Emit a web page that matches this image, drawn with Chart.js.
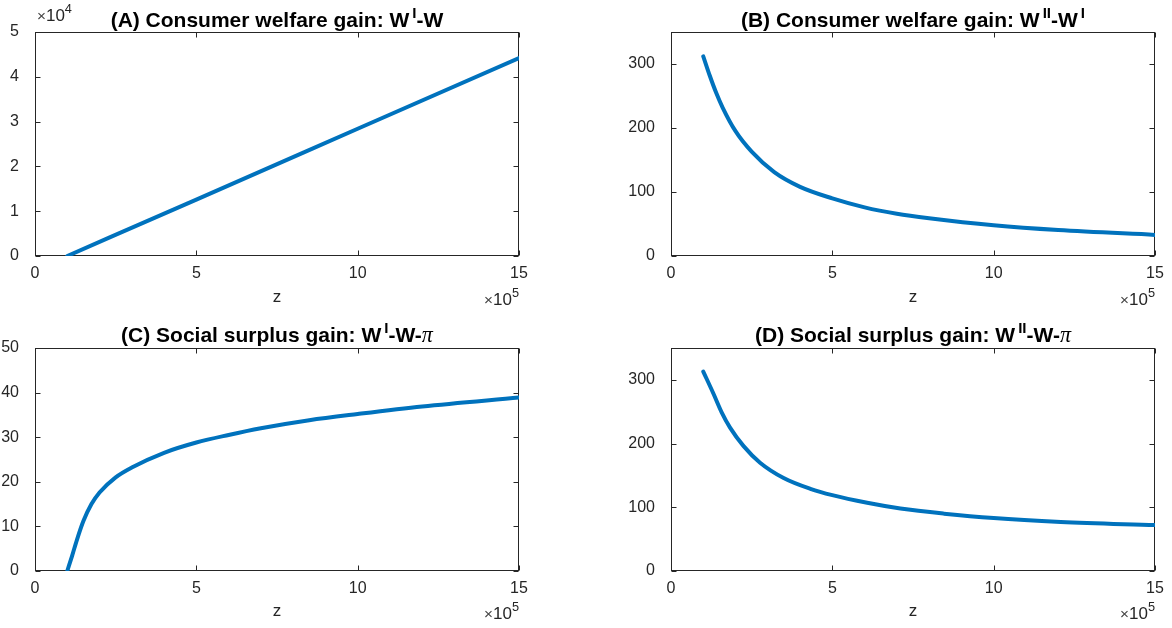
<!DOCTYPE html>
<html><head><meta charset="utf-8">
<script src="https://cdn.jsdelivr.net/npm/chart.js@4"></script>
<style>
html,body{margin:0;padding:0;background:#fff;}
body{width:1172px;height:628px;position:relative;overflow:hidden;font-family:'Liberation Sans',Arial,sans-serif;}
canvas{position:absolute;}
.title{position:absolute;font-weight:bold;font-size:21px;line-height:21px;white-space:nowrap;transform:translateX(-50%);color:#000;}
.title sup{font-size:0.72em;vertical-align:baseline;position:relative;top:-0.6em;margin-left:3px;}
.title .pi{font-family:'Liberation Serif',serif;font-style:italic;font-weight:normal;font-size:1.05em;}
.exp{position:absolute;font-size:17px;line-height:17px;white-space:nowrap;color:#262626;}
.exp sup{font-size:0.75em;vertical-align:baseline;position:relative;top:-0.6em;}
.exp .x{font-size:0.9em;color:#444;}
</style></head>
<body>
<canvas id="cA" width="586" height="316" style="left:0;top:0"></canvas>
<canvas id="cB" width="586" height="316" style="left:586px;top:0"></canvas>
<canvas id="cC" width="586" height="312" style="left:0;top:316px"></canvas>
<canvas id="cD" width="586" height="312" style="left:586px;top:316px"></canvas>

<div class="title" style="left:277px;top:9px">(A) Consumer welfare gain: W<sup>I</sup>-W</div>
<div class="title" style="left:913px;top:9px">(B) Consumer welfare gain: W<sup>II</sup>-W<sup>I</sup></div>
<div class="title" style="left:277px;top:324px">(C) Social surplus gain: W<sup>I</sup>-W-<span class="pi">π</span></div>
<div class="title" style="left:913px;top:324px">(D) Social surplus gain: W<sup>II</sup>-W-<span class="pi">π</span></div>

<div class="exp" style="left:37px;top:7px"><span class="x">×</span>10<sup>4</sup></div>
<div class="exp" style="right:653px;top:291px"><span class="x">×</span>10<sup>5</sup></div>
<div class="exp" style="right:17px;top:291px"><span class="x">×</span>10<sup>5</sup></div>
<div class="exp" style="right:653px;top:605px"><span class="x">×</span>10<sup>5</sup></div>
<div class="exp" style="right:17px;top:605px"><span class="x">×</span>10<sup>5</sup></div>

<script>
// ---- data (z in raw units) ----
const xTicks = [0, 500000, 1000000, 1500000];
const xTickLabels = ['0', '5', '10', '15'];

const zA = [100000, 500000, 1000000, 1500000];
const wA = [0, 12600, 28400, 44200];
const yTicksA = [0, 10000, 20000, 30000, 40000, 50000];
const yTickLabelsA = ['0', '1', '2', '3', '4', '5'];

const zB = [100000, 120000, 140000, 160000, 200000, 250000, 320000, 400000, 500000, 600000, 700000, 800000, 1000000, 1200000, 1500000];
const wB = [312, 282, 255, 232, 195, 163, 131, 108, 90, 76, 66, 59, 48, 40.5, 33];
const yTicksB = [0, 100, 200, 300];
const yTickLabelsB = ['0', '100', '200', '300'];

const zC = [100000, 115000, 130000, 150000, 175000, 200000, 250000, 300000, 400000, 500000, 600000, 700000, 850000, 1000000, 1200000, 1500000];
const wC = [0, 3.4, 7.0, 11.2, 15.0, 17.6, 21.0, 23.2, 26.5, 28.8, 30.5, 32.0, 33.8, 35.2, 36.9, 38.9];
const yTicksC = [0, 10, 20, 30, 40, 50];
const yTickLabelsC = ['0', '10', '20', '30', '40', '50'];

const zD = [100000, 131000, 157000, 183000, 225000, 276000, 349000, 432000, 500000, 608000, 711000, 846000, 1000000, 1208000, 1500000];
const wD = [313, 279, 249, 225, 196, 170, 146, 129, 119, 107, 98, 90, 83, 77, 72];
const yTicksD = [0, 100, 200, 300];
const yTickLabelsD = ['0', '100', '200', '300'];

// ---- styling ----
const FONT = "'Liberation Sans', Arial, sans-serif";
const AXIS = '#262626';
const LINE = '#0072BD';

const framePlugin = {
  id: 'frame',
  beforeDatasetsDraw(chart) {
    const {ctx, chartArea: a, scales: {x, y}} = chart;
    ctx.save();
    ctx.strokeStyle = AXIS;
    ctx.lineWidth = 1;
    const L = Math.round(a.left) + 0.5, R = Math.round(a.right) - 0.5;
    const T = Math.round(a.top) + 0.5, B = Math.round(a.bottom) - 0.5;
    ctx.strokeRect(L, T, R - L, B - T);
    ctx.beginPath();
    x.ticks.forEach(t => {
      const px = Math.round(x.getPixelForValue(t.value)) + 0.5;
      ctx.moveTo(px, B); ctx.lineTo(px, B - 5);
      ctx.moveTo(px, T); ctx.lineTo(px, T + 5);
    });
    y.ticks.forEach(t => {
      const py = Math.round(y.getPixelForValue(t.value)) + 0.5;
      ctx.moveTo(L, py); ctx.lineTo(L + 5, py);
      ctx.moveTo(R, py); ctx.lineTo(R - 5, py);
    });
    ctx.stroke();
    ctx.restore();
  }
};

function makeChart(id, zs, ws, yMax, yTicks, yLabels, yAxisW, padRight, xAxisH, zPad) {
  const pts = zs.map((z, i) => ({x: z, y: ws[i]}));
  return new Chart(document.getElementById(id), {
    type: 'line',
    data: { datasets: [{ data: pts, borderColor: LINE, borderWidth: 4, pointRadius: 0,
      cubicInterpolationMode: 'monotone', fill: false, borderCapStyle: 'round', borderJoinStyle: 'round' }] },
    options: {
      responsive: false, animation: false, devicePixelRatio: 1,
      layout: { padding: { top: 32, right: padRight, bottom: 0, left: 0 } },
      plugins: { legend: { display: false }, tooltip: { enabled: false }, title: { display: false } },
      scales: {
        x: {
          type: 'linear', min: 0, max: 1500000,
          afterBuildTicks: s => { s.ticks = xTicks.map(v => ({value: v})); },
          afterFit: s => { s.height = xAxisH; },
          grid: { display: false }, border: { display: false },
          ticks: { font: { family: FONT, size: 16 }, color: AXIS, padding: 0, maxRotation: 0, autoSkip: false,
            callback: (v, i) => xTickLabels[i] },
          title: { display: true, text: 'z', font: { family: FONT, size: 17 }, color: AXIS,
            padding: { top: 0, bottom: zPad } }
        },
        y: {
          type: 'linear', min: 0, max: yMax,
          afterBuildTicks: s => { s.ticks = yTicks.map(v => ({value: v})); },
          afterFit: s => { s.width = yAxisW; },
          grid: { display: false }, border: { display: false },
          ticks: { font: { family: FONT, size: 16 }, color: AXIS, padding: 8, autoSkip: false,
            callback: (v, i) => yLabels[i] }
        }
      }
    },
    plugins: [framePlugin]
  });
}

makeChart('cA', zA, wA, 50000, yTicksA, yTickLabelsA, 35, 67, 60, 8);
makeChart('cB', zB, wB, 350, yTicksB, yTickLabelsB, 85, 17, 60, 8);
makeChart('cC', zC, wC, 50, yTicksC, yTickLabelsC, 35, 67, 57, 6);
makeChart('cD', zD, wD, 350, yTicksD, yTickLabelsD, 85, 17, 57, 6);
</script>
</body></html>
